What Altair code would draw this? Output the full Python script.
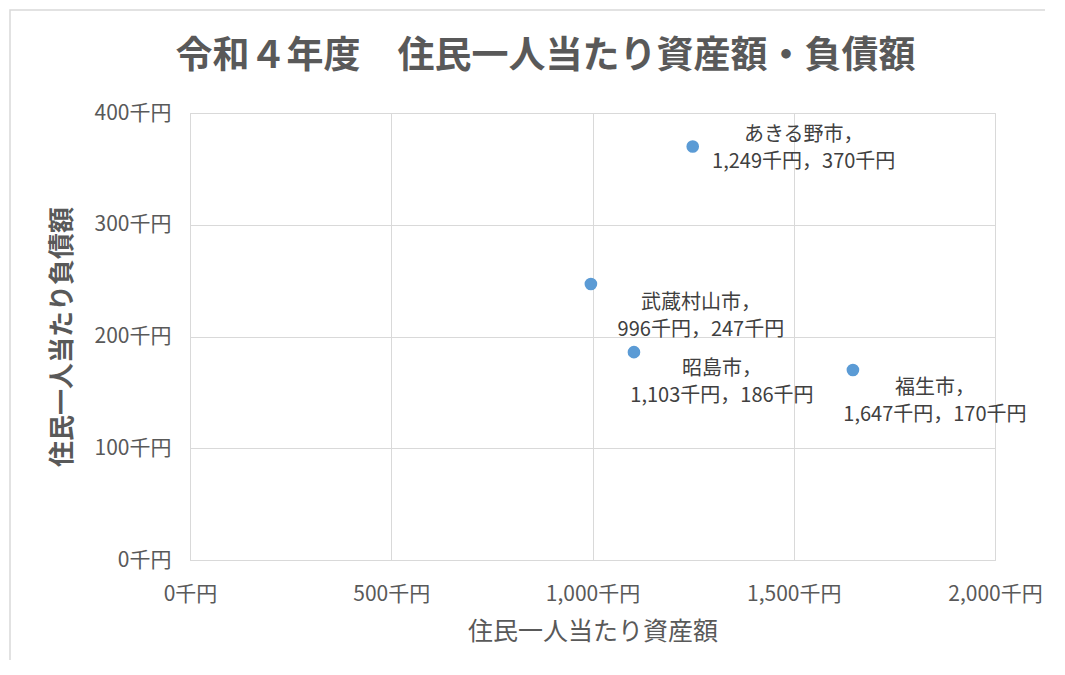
import altair as alt
import pandas as pd

cities = ["あきる野市", "武蔵村山市", "昭島市", "福生市"]
assets = [1249, 996, 1103, 1647]      # 住民一人当たり資産額（千円）
liabilities = [370, 247, 186, 170]    # 住民一人当たり負債額（千円）
x_ticks = [0, 500, 1000, 1500, 2000]
y_ticks = [0, 100, 200, 300, 400]

df = pd.DataFrame({"city": cities, "asset": assets, "debt": liabilities})
df["label"] = [f"{c}，\n{a:,}千円，{d:,}千円" for c, a, d in zip(cities, assets, liabilities)]

FONT = "Noto Sans CJK JP"
W, H = 805, 447

x_enc = alt.X("asset:Q", scale=alt.Scale(domain=[0, 2000], nice=False),
              axis=alt.Axis(values=x_ticks, labelExpr="format(datum.value, ',') + '千円'",
                            title="住民一人当たり資産額", titleFontWeight="normal",
                            titleFontSize=25, titleColor="#595959", titleY=59,
                            labelFontSize=21, labelColor="#595959", labelPadding=23,
                            labelFlush=False, labelOverlap=False,
                            ticks=False, domainColor="#d9d9d9", gridColor="#d9d9d9",
                            labelFont=FONT, titleFont=FONT))
y_enc = alt.Y("debt:Q", scale=alt.Scale(domain=[0, 400], nice=False),
              axis=alt.Axis(values=y_ticks, labelExpr="format(datum.value, ',') + '千円'",
                            title="住民一人当たり負債額", titleFontWeight="bold",
                            titleFontSize=26, titleColor="#595959", titleX=-115, titleY=H / 2,
                            labelFontSize=21, labelColor="#595959", labelPadding=19,
                            labelFlush=False, labelOverlap=False,
                            ticks=False, domainColor="#d9d9d9", gridColor="#d9d9d9",
                            labelFont=FONT, titleFont=FONT))

base = alt.Chart(df)

frame = base.mark_rect(fill=None, stroke="#d9d9d9", strokeWidth=1.5).encode(
    x=alt.value(-180), x2=alt.value(W + 200), y=alt.value(-103), y2=alt.value(H + 200)
).transform_filter(alt.datum.city == cities[0])

points = base.mark_circle(size=160, color="#5B9BD5", opacity=1).encode(x=x_enc, y=y_enc)

offsets = {"あきる野市": (111, -12), "武蔵村山市": (110, 19), "昭島市": (88, 17), "福生市": (82, 18)}
labels = []
for c in cities:
    dx, dy = offsets[c]
    labels.append(
        base.mark_text(lineBreak="\n", align="center", baseline="middle", dx=dx, dy=dy,
                       fontSize=20, font=FONT, color="#404040", lineHeight=27)
        .encode(x=alt.X("asset:Q"), y=alt.Y("debt:Q"), text="label:N")
        .transform_filter(alt.datum.city == c)
    )

chart = alt.layer(frame, points, *labels).properties(
    width=W, height=H,
    title=alt.Title("令和４年度　住民一人当たり資産額・負債額", fontSize=37, font=FONT,
                    fontWeight="bold", color="#595959", anchor="middle", dx=-47, offset=-67),
    autosize=alt.AutoSizeParams(type="none"),
    padding={"left": 182, "top": 105, "right": 50, "bottom": 100},
).configure_view(stroke="#d9d9d9").configure(background="white")

chart.save("out.html", embed_options={"renderer": "svg", "actions": False})
